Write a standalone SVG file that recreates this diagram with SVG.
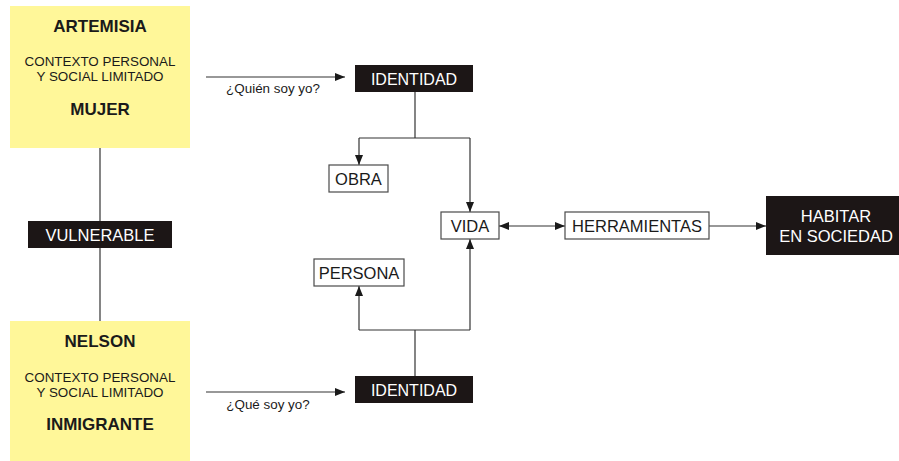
<svg xmlns="http://www.w3.org/2000/svg" width="899" height="461" viewBox="0 0 899 461">
<style>
.yel{fill:#FFF799}
.blk{fill:#1c1616}
.wht{fill:#ffffff;stroke:#4a4a4a;stroke-width:1.2}
text{font-family:"Liberation Sans",Arial,sans-serif;text-anchor:middle}
.h{font-weight:bold;font-size:17px;fill:#1a1a1a}
.s{font-size:13.4px;fill:#1a1a1a}
.w{font-size:16.5px;fill:#ffffff}
.d{font-size:16.5px;fill:#1a1a1a}
.c{fill:none;stroke:#333;stroke-width:1.2}
</style>
<defs>
<marker id="ah" viewBox="0 0 10 10" refX="10" refY="5" markerWidth="10" markerHeight="10" markerUnits="userSpaceOnUse" orient="auto-start-reverse">
<path d="M0,1 L10,5 L0,9 Z" fill="#1a1a1a"/>
</marker>
</defs>
<g id="connectors">
<line class="c" x1="100" y1="148" x2="100" y2="221"/>
<line class="c" x1="100" y1="248" x2="100" y2="321"/>
<line class="c" x1="206" y1="77" x2="345" y2="77" marker-end="url(#ah)"/>
<line class="c" x1="206" y1="392" x2="345" y2="392" marker-end="url(#ah)"/>
<polyline class="c" points="415,92 415,138"/>
<polyline class="c" points="359,138 470,138"/>
<line class="c" x1="359" y1="138" x2="359" y2="165" marker-end="url(#ah)"/>
<line class="c" x1="470" y1="138" x2="470" y2="212" marker-end="url(#ah)"/>
<line class="c" x1="415" y1="376" x2="415" y2="330"/>
<polyline class="c" points="359,330 470,330"/>
<line class="c" x1="359" y1="330" x2="359" y2="286" marker-end="url(#ah)"/>
<line class="c" x1="470" y1="330" x2="470" y2="239" marker-end="url(#ah)"/>
<line class="c" x1="499" y1="226" x2="565" y2="226" marker-start="url(#ah)" marker-end="url(#ah)"/>
<line class="c" x1="709" y1="226" x2="766" y2="226" marker-end="url(#ah)"/>
</g>
<g id="artemisia">
<rect class="yel" x="10" y="6" width="180" height="142"/>
<text class="h" x="100" y="32">ARTEMISIA</text>
<text class="s" x="100" y="66">CONTEXTO PERSONAL</text>
<text class="s" x="100" y="81">Y SOCIAL LIMITADO</text>
<text class="h" x="100" y="115">MUJER</text>
</g>
<g id="vulnerable">
<rect class="blk" x="28" y="221" width="144" height="27"/>
<text class="w" x="100" y="240.5">VULNERABLE</text>
</g>
<g id="nelson">
<rect class="yel" x="10" y="321" width="180" height="140"/>
<text class="h" x="100" y="347">NELSON</text>
<text class="s" x="100" y="382">CONTEXTO PERSONAL</text>
<text class="s" x="100" y="397">Y SOCIAL LIMITADO</text>
<text class="h" x="100" y="430">INMIGRANTE</text>
</g>
<g id="label-quien">
<text class="s" x="273" y="93">¿Quién soy yo?</text>
</g>
<g id="label-que">
<text class="s" x="268" y="409">¿Qué soy yo?</text>
</g>
<g id="identidad1">
<rect class="blk" x="355" y="65" width="118" height="27"/>
<text class="w" x="414" y="84.5" style="font-size:16px">IDENTIDAD</text>
</g>
<g id="identidad2">
<rect class="blk" x="355" y="376" width="118" height="27"/>
<text class="w" x="414" y="395.5" style="font-size:16px">IDENTIDAD</text>
</g>
<g id="obra">
<rect class="wht" x="329" y="165" width="59" height="27"/>
<text class="d" x="358.5" y="184.5">OBRA</text>
</g>
<g id="persona">
<rect class="wht" x="314" y="259" width="90" height="27"/>
<text class="d" x="359" y="278.5">PERSONA</text>
</g>
<g id="vida">
<rect class="wht" x="441" y="212" width="58" height="27"/>
<text class="d" x="470" y="231.5">VIDA</text>
</g>
<g id="herramientas">
<rect class="wht" x="565" y="212" width="144" height="27"/>
<text class="d" x="637" y="231.5">HERRAMIENTAS</text>
</g>
<g id="habitar">
<rect class="blk" x="766" y="196" width="140" height="59"/>
<text class="w" x="836" y="222">HABITAR</text>
<text class="w" x="836" y="242">EN SOCIEDAD</text>
</g>
</svg>
